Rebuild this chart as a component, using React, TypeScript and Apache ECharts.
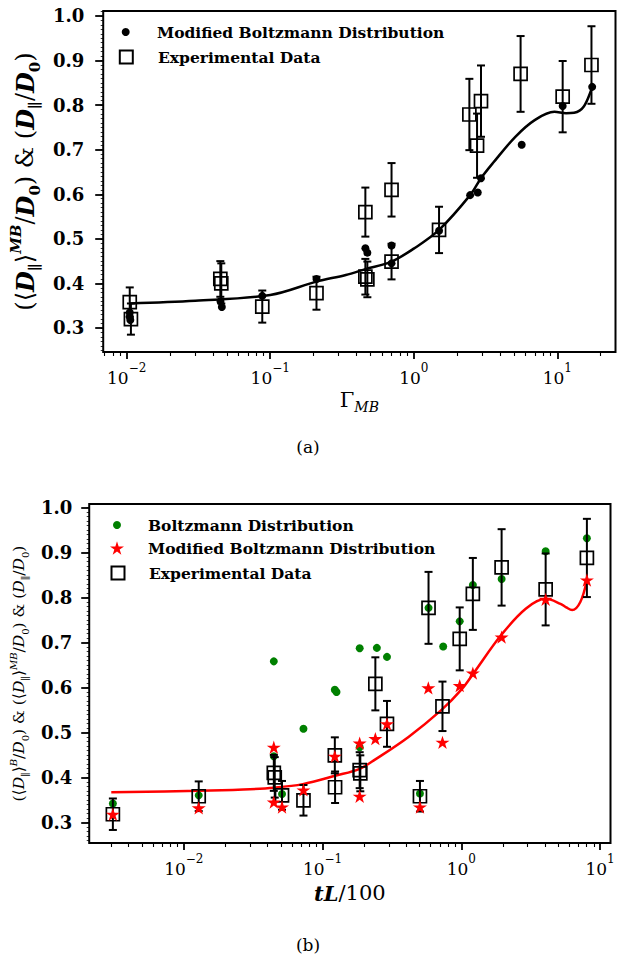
import React, { useEffect, useRef } from "react";
import * as echarts from "echarts";

// ---------- Panel (a) ----------
const aFitX = [0.0105, 0.03, 0.1, 0.21, 0.336, 0.46, 0.7, 1.0, 1.5, 2.47, 2.94, 3.56, 5.1, 7.0, 9.55, 11.5, 13.1, 15.3, 17.5];
const aFitY = [0.355, 0.361, 0.374, 0.404, 0.419, 0.432, 0.449, 0.478, 0.52, 0.598, 0.636, 0.67, 0.729, 0.767, 0.785, 0.782, 0.783, 0.797, 0.841];

const aMbX = [0.0105, 0.0105, 0.0106, 0.045, 0.046, 0.088, 0.21, 0.46, 0.475, 0.7, 0.7, 1.5, 2.47, 2.79, 2.94, 5.65, 10.9, 17.5];
const aMbY = [0.335, 0.325, 0.318, 0.36, 0.347, 0.372, 0.41, 0.479, 0.469, 0.485, 0.445, 0.518, 0.598, 0.604, 0.636, 0.711, 0.798, 0.841];

const aExpX = [0.0105, 0.0107, 0.0449, 0.0456, 0.088, 0.21, 0.46, 0.46, 0.475, 0.7, 0.7, 1.5, 2.44, 2.76, 2.94, 5.55, 10.9, 17.3];
const aExpY = [0.358, 0.32, 0.41, 0.4, 0.348, 0.378, 0.56, 0.415, 0.409, 0.61, 0.449, 0.52, 0.779, 0.709, 0.809, 0.87, 0.819, 0.89];
const aExpErr = [0.033, 0.035, 0.04, 0.045, 0.036, 0.037, 0.055, 0.04, 0.04, 0.06, 0.04, 0.052, 0.08, 0.072, 0.08, 0.085, 0.08, 0.087];

// ---------- Panel (b) ----------
const bFitX = [0.003, 0.0128, 0.0268, 0.0445, 0.072, 0.125, 0.185, 0.24, 0.416, 0.72, 1.0, 1.24, 1.93, 2.91, 4.05, 5.18, 5.7, 6.28, 7.2, 8.03];
const bFitY = [0.367, 0.37, 0.373, 0.377, 0.385, 0.404, 0.419, 0.44, 0.49, 0.55, 0.595, 0.634, 0.716, 0.775, 0.797, 0.786, 0.778, 0.772, 0.79, 0.839];

const bBdX = [0.00308, 0.0128, 0.0445, 0.0445, 0.051, 0.0728, 0.1225, 0.126, 0.185, 0.185, 0.246, 0.291, 0.503, 0.58, 0.74, 0.973, 1.21, 1.95, 4.05, 8.03];
const bBdY = [0.342, 0.36, 0.658, 0.447, 0.363, 0.508, 0.595, 0.59, 0.687, 0.467, 0.688, 0.668, 0.364, 0.777, 0.691, 0.747, 0.828, 0.841, 0.903, 0.932];

const bMbX = [0.00308, 0.0128, 0.0445, 0.0445, 0.051, 0.0728, 0.1225, 0.185, 0.185, 0.24, 0.291, 0.503, 0.578, 0.731, 0.973, 1.21, 1.95, 4.05, 8.03];
const bMbY = [0.318, 0.332, 0.467, 0.345, 0.334, 0.372, 0.447, 0.476, 0.358, 0.486, 0.519, 0.334, 0.599, 0.478, 0.604, 0.632, 0.712, 0.796, 0.839];

const bExpX = [0.00308, 0.0128, 0.0445, 0.0452, 0.051, 0.0728, 0.1225, 0.123, 0.185, 0.187, 0.24, 0.291, 0.503, 0.58, 0.731, 0.973, 1.21, 1.95, 4.05, 8.03];
const bExpY = [0.318, 0.358, 0.41, 0.4, 0.36, 0.349, 0.449, 0.378, 0.416, 0.409, 0.608, 0.519, 0.358, 0.777, 0.558, 0.708, 0.808, 0.867, 0.818, 0.888];
const bExpErr = [0.035, 0.033, 0.04, 0.045, 0.032, 0.034, 0.04, 0.035, 0.04, 0.04, 0.059, 0.051, 0.034, 0.08, 0.055, 0.07, 0.08, 0.085, 0.08, 0.087];

// ---------- Ticks ----------
const xMajor = [0.001, 0.01, 0.1, 1, 10];
const xMinorMult = [2, 3, 4, 5, 6, 7, 8, 9];
const yMajor = [0.3, 0.4, 0.5, 0.6, 0.7, 0.8, 0.9, 1.0];

const legendNames: Record<string, string> = {
  mb_a: "Modified Boltzmann Distribution",
  exp_a: "Experimental Data",
  bd_b: "Boltzmann Distribution",
  mb_b: "Modified Boltzmann Distribution",
  exp_b: "Experimental Data",
};

const FONT = "DejaVu Serif";

const zip = (xs: number[], ys: number[]) => xs.map((x, i) => [x, ys[i]]);
const zip3 = (xs: number[], ys: number[], es: number[]) => xs.map((x, i) => [x, ys[i], es[i]]);

const xMinor: number[] = [];
xMajor.forEach((d) => xMinorMult.forEach((m) => xMinor.push(+(m * d).toPrecision(3))));
const yMinor: number[] = [];
for (let k = 25; k <= 101; k++) yMinor.push(+(k / 100).toFixed(2));

const starPath = (() => {
  const pts: string[] = [];
  for (let k = 0; k < 10; k++) {
    const a = -Math.PI / 2 + (k * Math.PI) / 5;
    const r = k % 2 === 0 ? 50 : 19.1;
    pts.push(`${(50 + r * Math.cos(a)).toFixed(2)} ${(50 + r * Math.sin(a)).toFixed(2)}`);
  }
  return "path://M" + pts.join(" L") + " Z";
})();

const supStr = (v: number) => {
  const e = Math.round(Math.log10(v));
  return e < 0 ? "\u2212" + Math.abs(e) : String(e);
};

const xLabelRich = {
  b: { fontFamily: FONT, fontSize: 17, lineHeight: 24, verticalAlign: "bottom", color: "#000" },
  s: { fontFamily: FONT, fontSize: 12, lineHeight: 14, verticalAlign: "top", color: "#000" },
};

function errRender(params: any, api: any) {
  const x = api.value(0);
  const y = api.value(1);
  const e = api.value(2);
  const t = api.coord([x, y + e]);
  const b = api.coord([x, y - e]);
  const cw = 4;
  const st = { stroke: "#000", lineWidth: 2 };
  return {
    type: "group",
    children: [
      { type: "line", shape: { x1: t[0], y1: t[1], x2: b[0], y2: b[1] }, style: st },
      { type: "line", shape: { x1: t[0] - cw, y1: t[1], x2: t[0] + cw, y2: t[1] }, style: st },
      { type: "line", shape: { x1: b[0] - cw, y1: b[1], x2: b[0] + cw, y2: b[1] }, style: st },
    ],
  };
}

function makeX(grid: number, min: number, max: number, major: boolean, name?: string, nameGap?: number, rich?: any) {
  return {
    gridIndex: grid,
    type: "log",
    logBase: 10,
    min,
    max,
    position: "bottom",
    axisLine: { show: false },
    splitLine: { show: false },
    minorTick: { show: false },
    axisTick: major
      ? { show: true, customValues: xMajor, length: 7, lineStyle: { color: "#000", width: 1.8 } }
      : { show: true, customValues: xMinor, length: 4, lineStyle: { color: "#000", width: 1.1 } },
    axisLabel: major
      ? {
          show: true,
          customValues: xMajor,
          margin: 10,
          formatter: (v: number) => `{b|10}{s|${supStr(v)}}`,
          rich: xLabelRich,
        }
      : { show: false },
    name: name || "",
    nameLocation: "middle",
    nameGap: nameGap || 0,
    nameTextStyle: rich ? { rich } : undefined,
  };
}

function makeY(grid: number, min: number, max: number, major: boolean, margin: number, name?: string, nameGap?: number, rich?: any) {
  return {
    gridIndex: grid,
    type: "value",
    min,
    max,
    position: "left",
    axisLine: { show: false },
    splitLine: { show: false },
    axisTick: major
      ? { show: true, customValues: yMajor, length: 8, lineStyle: { color: "#000", width: 1.8 } }
      : { show: true, customValues: yMinor, length: 2.5, lineStyle: { color: "#000", width: 0.8 } },
    axisLabel: major
      ? {
          show: true,
          customValues: yMajor,
          margin,
          formatter: (v: number) => v.toFixed(1),
          fontFamily: FONT,
          fontWeight: "bold",
          fontSize: 18,
          color: "#000",
        }
      : { show: false },
    name: name || "",
    nameLocation: "middle",
    nameRotate: 90,
    nameGap: nameGap || 0,
    nameTextStyle: rich ? { rich } : undefined,
  };
}

function legendRow(name: string, cx: number, cy: number, size: number, textX: number) {
  const left = cx - size / 2;
  return {
    data: [name],
    left,
    top: cy - 10,
    orient: "vertical",
    padding: 0,
    itemWidth: size,
    itemHeight: size,
    selectedMode: false,
    formatter: (n: string) => legendNames[n],
    textStyle: {
      fontFamily: FONT,
      fontWeight: "bold",
      fontSize: 15.5,
      lineHeight: 20,
      color: "#000",
      padding: [0, 0, 0, textX - (left + size + 5)],
    },
  };
}

const yTitleARich = {
  r: { fontFamily: FONT, fontSize: 24, lineHeight: 34, color: "#000" },
  bi: { fontFamily: FONT, fontSize: 24, fontWeight: "bold", fontStyle: "italic", lineHeight: 34, color: "#000" },
  sb: { fontFamily: FONT, fontSize: 15, fontWeight: "bold", lineHeight: 24, verticalAlign: "bottom", color: "#000" },
  sp: { fontFamily: FONT, fontSize: 15, fontWeight: "bold", fontStyle: "italic", lineHeight: 22, verticalAlign: "top", color: "#000" },
};
const yTitleA = "{r|(\u27E8}{bi|D}{sb|\u2225}{r|\u27E9}{sp|MB}{r|/}{bi|D}{sb|0}{r|) & (}{bi|D}{sb|\u2225}{r|/}{bi|D}{sb|0}{r|)}";

const yTitleBRich = {
  r: { fontFamily: FONT, fontSize: 15.5, lineHeight: 22, color: "#000" },
  i: { fontFamily: FONT, fontSize: 15.5, fontStyle: "italic", lineHeight: 22, color: "#000" },
  sb: { fontFamily: FONT, fontSize: 10, lineHeight: 16, verticalAlign: "bottom", color: "#000" },
  sp: { fontFamily: FONT, fontSize: 10, fontStyle: "italic", lineHeight: 14, verticalAlign: "top", color: "#000" },
};
const yTitleB =
  "{r|(\u27E8}{i|D}{sb|\u2225}{r|\u27E9}{sp|B}{r|/}{i|D}{sb|0}{r|) & (\u27E8}{i|D}{sb|\u2225}{r|\u27E9}{sp|MB}{r|/}{i|D}{sb|0}{r|) & (}{i|D}{sb|\u2225}{r|/}{i|D}{sb|0}{r|)}";

const xTitleARich = {
  g: { fontFamily: FONT, fontSize: 21, lineHeight: 28, color: "#000" },
  sb: { fontFamily: FONT, fontSize: 14, fontStyle: "italic", lineHeight: 20, verticalAlign: "bottom", color: "#000" },
};
const xTitleA = "{g|\u0393}{sb|MB}";

const xTitleBRich = {
  i: { fontFamily: FONT, fontSize: 21, fontStyle: "italic", fontWeight: "bold", lineHeight: 28, color: "#000" },
  n: { fontFamily: FONT, fontSize: 21, lineHeight: 28, color: "#000" },
};
const xTitleB = "{i|tL}{n|/100}";

export default function App() {
  const ref = useRef<HTMLDivElement>(null);
  useEffect(() => {
    if (!ref.current) return;
    const chart = echarts.init(ref.current, undefined, { renderer: "svg" });
    const option: any = {
      animation: false,
      backgroundColor: "#fff",
      textStyle: { fontFamily: FONT },
      grid: [
        { left: 92, top: 11, width: 523.5, height: 341, show: true, borderColor: "#000", borderWidth: 2, backgroundColor: "transparent", containLabel: false },
        { left: 84.5, top: 504, width: 526, height: 339, show: true, borderColor: "#000", borderWidth: 2, backgroundColor: "transparent", containLabel: false },
      ],
      xAxis: [
        makeX(0, 0.00686, 25.44, true, xTitleA, 34, xTitleARich),
        makeX(0, 0.00686, 25.44, false),
        makeX(1, 0.00208, 11.88, true, xTitleB, 36, xTitleBRich),
        makeX(1, 0.00208, 11.88, false),
      ],
      yAxis: [
        makeY(0, 0.2461, 1.0112, true, 19, yTitleA, 50, yTitleARich),
        makeY(0, 0.2461, 1.0112, false, 0),
        makeY(1, 0.254, 1.008, true, 17, yTitleB, 50, yTitleBRich),
        makeY(1, 0.254, 1.008, false, 0),
      ],
      legend: [
        legendRow("mb_a", 125.7, 32, 8, 157),
        legendRow("exp_a", 125.3, 57, 13, 157),
        legendRow("bd_b", 117, 525, 8, 148),
        legendRow("mb_b", 117, 548, 14, 148),
        legendRow("exp_b", 117, 573, 13, 148),
      ],
      graphic: [
        { type: "text", x: 308, y: 447, style: { text: "(a)", fontFamily: FONT, fontSize: 17, fill: "#000", align: "center", verticalAlign: "middle" } },
        { type: "text", x: 308, y: 945, style: { text: "(b)", fontFamily: FONT, fontSize: 17, fill: "#000", align: "center", verticalAlign: "middle" } },
      ],
      series: [
        {
          name: "fit_a", type: "line", xAxisIndex: 0, yAxisIndex: 0, data: zip(aFitX, aFitY),
          smooth: 0.35, showSymbol: false, lineStyle: { color: "#000", width: 2.5 }, z: 2, silent: true,
        },
        {
          name: "mb_a", type: "scatter", xAxisIndex: 0, yAxisIndex: 0, data: zip(aMbX, aMbY),
          symbol: "circle", symbolSize: 8, itemStyle: { color: "#000", opacity: 1 }, z: 3,
        },
        {
          name: "err_a", type: "custom", xAxisIndex: 0, yAxisIndex: 0, data: zip3(aExpX, aExpY, aExpErr),
          renderItem: errRender, encode: { x: 0, y: 1 }, z: 4,
        },
        {
          name: "exp_a", type: "scatter", xAxisIndex: 0, yAxisIndex: 0, data: zip(aExpX, aExpY),
          symbol: "rect", symbolSize: 13, itemStyle: { color: "rgba(255,255,255,0)", borderColor: "#000", borderWidth: 1.7, opacity: 1 }, z: 5,
        },
        {
          name: "fit_b", type: "line", xAxisIndex: 2, yAxisIndex: 2, data: zip(bFitX, bFitY),
          smooth: 0.35, showSymbol: false, lineStyle: { color: "#ff0000", width: 2.5 }, z: 2, silent: true,
        },
        {
          name: "bd_b", type: "scatter", xAxisIndex: 2, yAxisIndex: 2, data: zip(bBdX, bBdY),
          symbol: "circle", symbolSize: 8, itemStyle: { color: "#008000", opacity: 1 }, z: 3,
        },
        {
          name: "err_b", type: "custom", xAxisIndex: 2, yAxisIndex: 2, data: zip3(bExpX, bExpY, bExpErr),
          renderItem: errRender, encode: { x: 0, y: 1 }, z: 4,
        },
        {
          name: "exp_b", type: "scatter", xAxisIndex: 2, yAxisIndex: 2, data: zip(bExpX, bExpY),
          symbol: "rect", symbolSize: 13, itemStyle: { color: "rgba(255,255,255,0)", borderColor: "#000", borderWidth: 1.7, opacity: 1 }, z: 5,
        },
        {
          name: "mb_b", type: "scatter", xAxisIndex: 2, yAxisIndex: 2, data: zip(bMbX, bMbY),
          symbol: starPath, symbolKeepAspect: true, symbolSize: 14, itemStyle: { color: "#ff0000", opacity: 1 }, z: 6,
        },
      ],
    };
    chart.setOption(option);
    return () => chart.dispose();
  }, []);
  return <div ref={ref} style={{ position: "fixed", left: 0, top: 0, width: 628, height: 959 }} />;
}
